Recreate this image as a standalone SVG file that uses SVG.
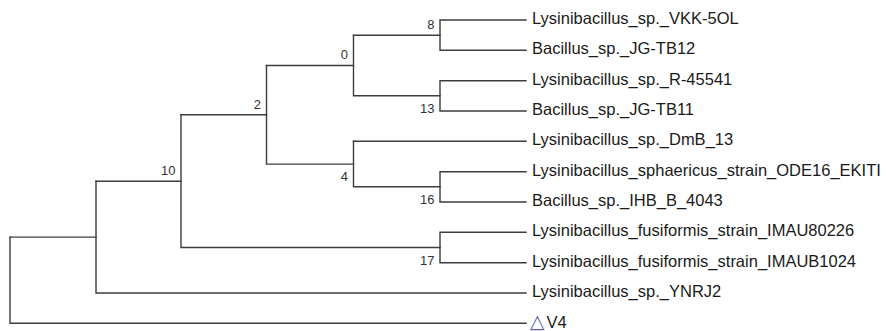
<svg xmlns="http://www.w3.org/2000/svg" width="886" height="331" viewBox="0 0 886 331">
<style>
.br{fill:none;stroke:#3c3c3c;stroke-width:1.4;stroke-linecap:square}
.leaf{font-family:"Liberation Sans",Arial,sans-serif;font-size:16.5px;fill:#1a1a1a}
.lab{font-family:"Liberation Sans",Arial,sans-serif;font-size:13px;fill:#333;text-anchor:end}
.tri{font-family:"DejaVu Sans",sans-serif;font-size:19px;fill:#5b5ea6}
</style>
<rect width="886" height="331" fill="#fff"/>
<g id="connectors" class="br">
<path d="M10,237.1V323.3H526"/>
<path d="M10,237.1H96"/>
<path d="M96,181.2V293H526"/>
<path d="M96,181.2H181"/>
<path d="M181,114.8V247.5H440"/>
<path d="M181,114.8H266.5"/>
<path d="M266.5,65.5V164.1H353.5"/>
<path d="M266.5,65.5H353.5"/>
<path d="M353.5,35.2V95.8H440"/>
<path d="M353.5,35.2H440"/>
<path d="M440,20V50.3M440,20H526M440,50.3H526"/>
<path d="M440,80.7V111M440,80.7H526M440,111H526"/>
<path d="M353.5,141.3V186.8H440"/>
<path d="M353.5,141.3H526"/>
<path d="M440,171.7V202M440,171.7H526M440,202H526"/>
<path d="M440,232.3V262.7M440,232.3H526M440,262.7H526"/>
</g>
<g id="n8"><text class="lab" x="434.5" y="28.8">8</text></g>
<g id="n0"><text class="lab" x="348" y="59.2">0</text></g>
<g id="n13"><text class="lab" x="434.5" y="113.1">13</text></g>
<g id="n2"><text class="lab" x="261" y="108.5">2</text></g>
<g id="n4"><text class="lab" x="348" y="181.4">4</text></g>
<g id="n16"><text class="lab" x="434.5" y="204.1">16</text></g>
<g id="n10"><text class="lab" x="175.5" y="174.9">10</text></g>
<g id="n17"><text class="lab" x="434.5" y="264.8">17</text></g>
<g id="leaf1"><text class="leaf" x="532" y="24">Lysinibacillus_sp._VKK-5OL</text></g>
<g id="leaf2"><text class="leaf" x="532" y="54.3">Bacillus_sp._JG-TB12</text></g>
<g id="leaf3"><text class="leaf" x="532" y="84.7">Lysinibacillus_sp._R-45541</text></g>
<g id="leaf4"><text class="leaf" x="532" y="115">Bacillus_sp._JG-TB11</text></g>
<g id="leaf5"><text class="leaf" x="532" y="145.3">Lysinibacillus_sp._DmB_13</text></g>
<g id="leaf6"><text class="leaf" x="532" y="175.7">Lysinibacillus_sphaericus_strain_ODE16_EKITI</text></g>
<g id="leaf7"><text class="leaf" x="532" y="206">Bacillus_sp._IHB_B_4043</text></g>
<g id="leaf8"><text class="leaf" x="532" y="236.3">Lysinibacillus_fusiformis_strain_IMAU80226</text></g>
<g id="leaf9"><text class="leaf" x="532" y="266.7">Lysinibacillus_fusiformis_strain_IMAUB1024</text></g>
<g id="leaf10"><text class="leaf" x="532" y="297">Lysinibacillus_sp._YNRJ2</text></g>
<g id="leaf11"><text class="leaf" y="327.8"><tspan class="tri" x="530">△</tspan> <tspan x="546.5">V4</tspan></text></g>
</svg>
